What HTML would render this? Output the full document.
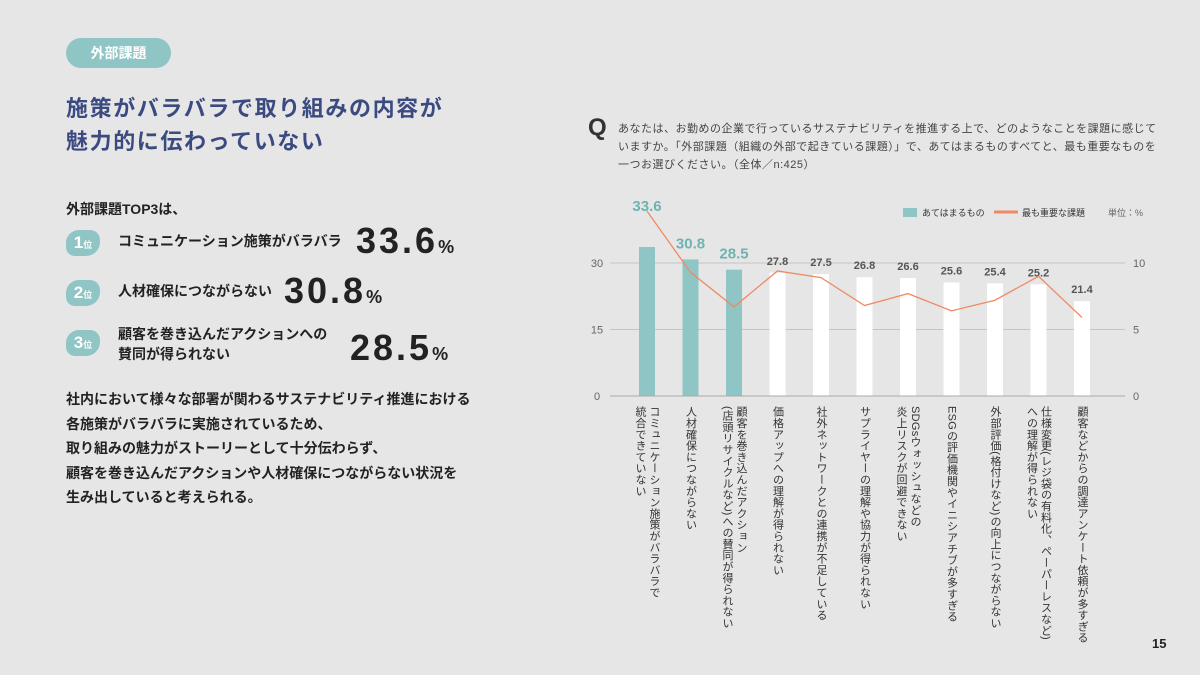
<!DOCTYPE html>
<html><head><meta charset="utf-8">
<style>
body{margin:0;width:1200px;height:675px;background:#e6e6e6;position:relative;overflow:hidden;font-family:"Liberation Sans","Noto Sans CJK JP",sans-serif;color:#222}
.abs{position:absolute}
.pill{left:66px;top:38px;width:105px;height:30px;border-radius:15px;background:#8fc5c4;color:#fff;font-weight:bold;font-size:14px;line-height:30px;text-align:center}
.title{left:66px;top:92px;font-size:22px;font-weight:bold;color:#3b4a80;letter-spacing:1.6px;line-height:33px}
.sub{left:66px;top:199px;font-size:14px;font-weight:bold}
.badge{width:34px;height:26px;background:#8fc5c4;border-radius:13px 10px 14px 9px;color:#fff;font-weight:bold;font-size:17px;line-height:26px;text-align:center}
.badge small{font-size:9px}
.rt{font-size:14px;font-weight:bold;line-height:20px}
.big{font-size:36px;font-weight:bold;letter-spacing:3px}
.big span{font-size:18px;letter-spacing:0}
.para{left:66px;top:387px;font-size:14px;font-weight:bold;line-height:24.5px}
.q{left:588px;top:114px;font-size:24px;font-weight:bold;color:#333}
.qt{left:618px;top:120px;font-size:11px;line-height:18px;color:#444;width:540px;letter-spacing:.5px}
.vl{writing-mode:vertical-rl;font-size:11px;line-height:14px;color:#333;top:406px;letter-spacing:.3px}
</style></head><body>
<div class="abs pill">外部課題</div>
<div class="abs title">施策がバラバラで取り組みの内容が<br>魅力的に伝わっていない</div>
<div class="abs sub">外部課題TOP3は、</div>

<div class="abs badge" style="left:66px;top:230px">1<small>位</small></div>
<div class="abs rt" style="left:118px;top:231px">コミュニケーション施策がバラバラ</div>
<div class="abs big" style="left:356px;top:220px">33.6<span>%</span></div>

<div class="abs badge" style="left:66px;top:280px">2<small>位</small></div>
<div class="abs rt" style="left:118px;top:281px">人材確保につながらない</div>
<div class="abs big" style="left:284px;top:270px">30.8<span>%</span></div>

<div class="abs badge" style="left:66px;top:330px">3<small>位</small></div>
<div class="abs rt" style="left:118px;top:324px">顧客を巻き込んだアクションへの<br>賛同が得られない</div>
<div class="abs big" style="left:350px;top:327px">28.5<span>%</span></div>

<div class="abs para">社内において様々な部署が関わるサステナビリティ推進における<br>各施策がバラバラに実施されているため、<br>取り組みの魅力がストーリーとして十分伝わらず、<br>顧客を巻き込んだアクションや人材確保につながらない状況を<br>生み出していると考えられる。</div>

<div class="abs q">Q</div>
<div class="abs qt">あなたは、お勤めの企業で行っているサステナビリティを推進する上で、どのようなことを課題に感じていますか。「外部課題（組織の外部で起きている課題）」で、あてはまるものすべてと、最も重要なものを一つお選びください。（全体／n:425）</div>

<svg class="abs" style="left:0;top:0" width="1200" height="675" id="chart"></svg>
<div id="labels"></div>
<div class="abs" style="left:1152px;top:636px;font-size:13px;font-weight:bold">15</div>

<script>
const categories=["コミュニケーション施策がバラバラで|統合できていない","人材確保につながらない","顧客を巻き込んだアクション|(店頭リサイクルなど)への賛同が得られない","価格アップへの理解が得られない","社外ネットワークとの連携が不足している","サプライヤーの理解や協力が得られない","SDGsウォッシュなどの|炎上リスクが回避できない","ESGの評価機関やイニシアチブが多すぎる","外部評価(格付けなど)の向上につながらない","仕様変更(レジ袋の有料化、ペーパーレスなど)|への理解が得られない","顧客などからの調達アンケート依頼が多すぎる"];
const applicable=[33.6,30.8,28.5,27.8,27.5,26.8,26.6,25.6,25.4,25.2,21.4];
const mostImportant=[13.9,9.3,6.7,9.4,8.9,6.8,7.7,6.4,7.2,9.0,5.9];
const leftTicks=[0,15,30];
const rightTicks=[0,5,10];

const NS="http://www.w3.org/2000/svg";
const svg=document.getElementById('chart');
const y0=396, pxL=133/30, pxR=133/10;
const yL=v=>y0-v*pxL, yR=v=>y0-v*pxR;
const xC=i=>647+i*43.5;
function mk(t,a){const e=document.createElementNS(NS,t);for(const k in a)e.setAttribute(k,a[k]);svg.appendChild(e);return e;}
leftTicks.forEach((t,i)=>{
  if(t>0){const g=mk('line',{x1:610,x2:1125,y1:yL(t),y2:yL(t),stroke:'#c4c4c4','stroke-width':1});
  
  }
  const tx=mk('text',{x:597,y:yL(t)+4,'font-size':11,fill:'#666','text-anchor':'middle','font-family':'Liberation Sans'});tx.textContent=t;
  
  
});
rightTicks.forEach(t=>{
  const tx=mk('text',{x:1133,y:yR(t)+4,'font-size':11,fill:'#666','font-family':'Liberation Sans'});tx.textContent=t;
  
  
});
applicable.forEach((v,i)=>{
  const top3=i<3;
  const r=mk('rect',{x:xC(i)-8,y:yL(v),width:16,height:y0-yL(v),fill:top3?'#8fc5c4':'#ffffff'});
  
  
  const tx=mk('text',{x:xC(i),y:i===0?yL(v)-36:(top3?yL(v)-11:yL(v)-8),'font-size':top3?15:11,'font-weight':'bold',fill:top3?'#6fb3b1':'#555','text-anchor':'middle','font-family':'Liberation Sans'});
  tx.textContent=v.toFixed(1);
  
  
});
const base=mk('line',{x1:610,x2:1125,y1:y0,y2:y0,stroke:'#aaa','stroke-width':1});


const pl=mk('polyline',{points:mostImportant.map((v,i)=>xC(i)+','+yR(v)).join(' '),fill:'none',stroke:'#ef8a62','stroke-width':1.3});


// legend
const lr=mk('rect',{x:903,y:208,width:14,height:9,fill:'#8fc5c4'});


const lt1=mk('text',{x:922,y:216,'font-size':9,fill:'#333'});lt1.textContent='あてはまるもの';


const ll=mk('line',{x1:994,x2:1018,y1:212,y2:212,stroke:'#ef8a62','stroke-width':3});


const lt2=mk('text',{x:1022,y:216,'font-size':9,fill:'#333'});lt2.textContent='最も重要な課題';


const lt3=mk('text',{x:1108,y:216,'font-size':9,fill:'#666'});lt3.textContent='単位：%';


// category labels
const lab=document.getElementById('labels');
categories.forEach((c,i)=>{
  const d=document.createElement('div');
  d.className='abs vl';
  const parts=c.split('|');
  const w=parts.length*14;
  d.style.left=(xC(i)-w/2)+'px';
  d.innerHTML=parts.join('<br>');
  
  
  lab.appendChild(d);
});
</script>
</body></html>
